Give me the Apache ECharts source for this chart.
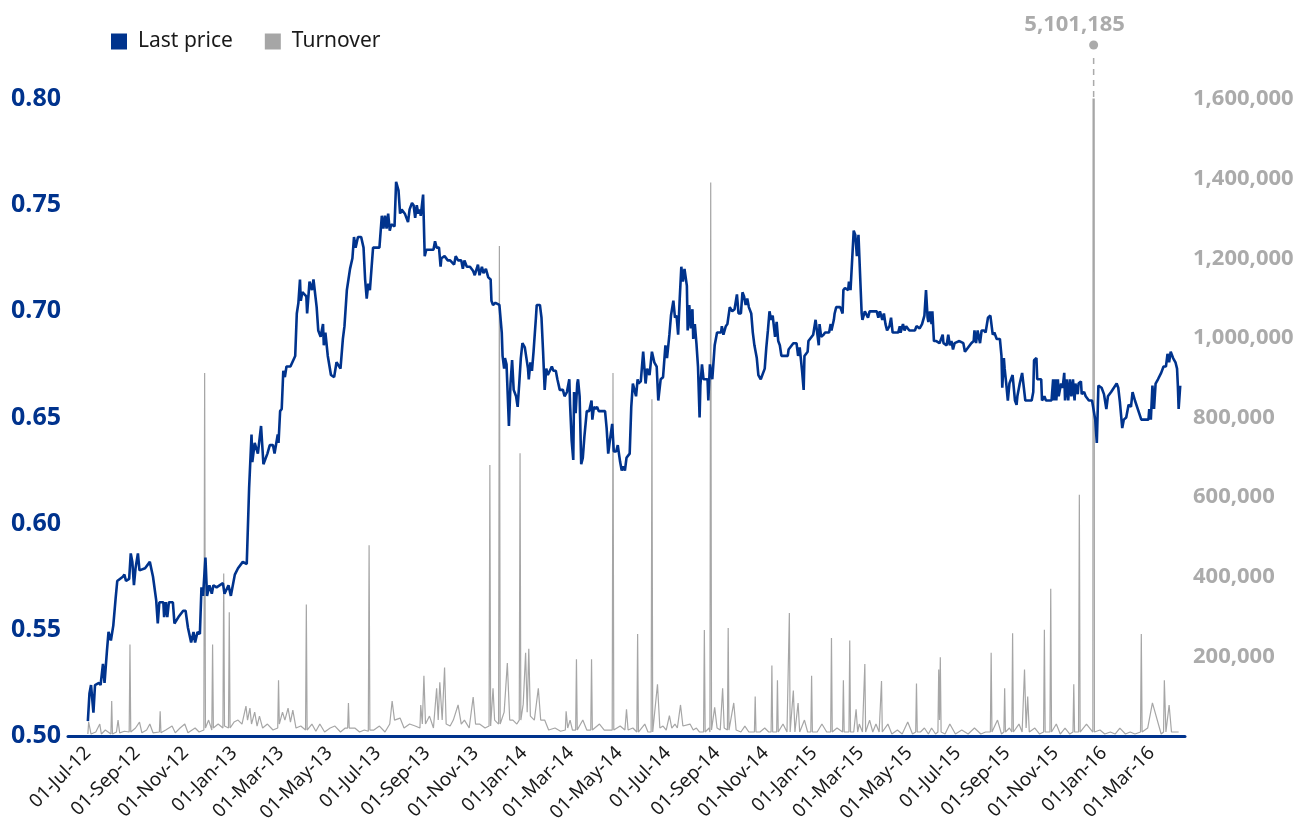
<!DOCTYPE html>
<html>
<head>
<meta charset="utf-8">
<script src="https://cdn.jsdelivr.net/npm/echarts@6/dist/echarts.min.js"></script>
<style>
  html, body { margin: 0; padding: 0; background: #fff; }
  #chart { width: 1299px; height: 828px; }
</style>
</head>
<body>
<div id="chart"></div>
<script>
// all days are counted from 01-Jul-2012
const startDate = '2012-07-01'

const tickDates = ['2012-07-01', '2012-09-01', '2012-11-01', '2013-01-01', '2013-03-01', '2013-05-01',
  '2013-07-01', '2013-09-01', '2013-11-01', '2014-01-01', '2014-03-01', '2014-05-01', '2014-07-01',
  '2014-09-01', '2014-11-01', '2015-01-01', '2015-03-01', '2015-05-01', '2015-07-01', '2015-09-01',
  '2015-11-01', '2016-01-01', '2016-03-01']

// last price
const priceDays = [0,2,4,7,9,14,16,19,21,24,26,29,32,35,37,44,46,48,52,54,56,58,60,63,65,72,78,82,86,88,90,95,96,98,100,102,107,109,114,120,123,126,130,133,135,138,141,143,145,148,150,153,156,158,162,170,172,177,180,185,189,195,200,203,206,207,210,214,218,221,226,229,233,235,239,240,242,244,246,248,250,255,261,263,265,267,268,270,275,276,279,282,284,288,290,293,296,297,299,302,306,310,313,318,321,323,326,328,330,333,335,337,340,344,347,349,351,353,355,357,359,367,370,372,374,376,378,380,382,386,388,391,393,395,399,403,405,408,410,412,414,416,418,419,422,424,426,435,437,439,442,444,445,449,453,456,461,463,466,470,472,474,477,481,485,487,491,493,496,498,501,504,507,508,510,513,518,521,522,524,525,527,530,532,534,536,539,541,543,545,547,550,554,555,557,559,561,564,565,569,571,573,575,577,579,584,586,589,591,594,598,600,603,606,607,609,611,612,614,616,617,619,621,623,625,628,631,634,635,637,639,641,643,651,653,655,657,660,662,665,667,670,672,674,676,678,682,684,686,688,690,692,693,696,699,702,704,707,710,713,716,718,721,724,727,729,732,734,737,739,741,743,745,747,749,751,754,755,757,759,761,762,764,766,768,770,771,773,775,780,781,783,786,789,792,797,798,800,803,805,808,811,814,817,819,822,824,826,828,830,832,835,837,839,842,844,847,852,854,856,858,860,862,865,867,869,871,873,881,882,888,892,894,896,898,899,901,902,906,907,913,916,918,920,921,923,926,928,933,935,936,939,940,942,947,950,951,953,957,958,960,962,964,966,968,970,971,974,975,978,980,982,984,993,995,997,999,1000,1002,1004,1006,1009,1011,1013,1020,1022,1023,1026,1028,1030,1034,1041,1043,1047,1050,1053,1055,1057,1058,1060,1062,1063,1065,1068,1072,1076,1077,1081,1083,1085,1087,1089,1091,1097,1102,1104,1108,1112,1115,1116,1118,1120,1123,1125,1128,1130,1133,1136,1139,1141,1144,1148,1150,1151,1153,1154,1156,1158,1160,1162,1164,1167,1169,1170,1172,1173,1176,1178,1180,1188,1190,1191,1194,1195,1200,1201,1204,1206,1213,1215,1216,1218,1219,1221,1222,1225,1227,1229,1230,1232,1234,1236,1238,1240,1242,1243,1246,1247,1250,1251,1254,1256,1258,1260,1264,1266,1268,1270,1272,1276,1279,1282,1284,1288,1295,1297,1299,1301,1302,1304,1307,1310,1313,1315,1318,1326,1335,1336,1338,1340,1342,1344,1347,1351,1354,1357,1359,1361,1363,1366,1369,1371,1372,1373,1375]
const prices = [0.507,0.520,0.524,0.511,0.524,0.525,0.524,0.534,0.525,0.540,0.549,0.545,0.552,0.565,0.573,0.575,0.576,0.573,0.574,0.586,0.582,0.571,0.579,0.586,0.578,0.579,0.582,0.575,0.564,0.553,0.563,0.563,0.556,0.563,0.556,0.563,0.563,0.553,0.556,0.559,0.559,0.551,0.544,0.549,0.544,0.549,0.548,0.570,0.566,0.584,0.566,0.571,0.567,0.571,0.570,0.572,0.567,0.571,0.566,0.576,0.579,0.582,0.581,0.617,0.642,0.629,0.638,0.633,0.646,0.628,0.633,0.637,0.637,0.633,0.642,0.638,0.653,0.654,0.672,0.669,0.674,0.674,0.679,0.699,0.704,0.715,0.705,0.709,0.707,0.699,0.714,0.710,0.715,0.702,0.691,0.688,0.694,0.684,0.690,0.679,0.670,0.669,0.676,0.673,0.687,0.693,0.710,0.715,0.720,0.725,0.735,0.730,0.735,0.735,0.730,0.715,0.706,0.713,0.710,0.720,0.730,0.730,0.745,0.739,0.745,0.739,0.746,0.738,0.741,0.740,0.761,0.757,0.746,0.748,0.746,0.742,0.748,0.751,0.750,0.744,0.750,0.746,0.748,0.745,0.755,0.726,0.729,0.729,0.733,0.730,0.730,0.721,0.725,0.726,0.724,0.724,0.722,0.726,0.724,0.724,0.720,0.724,0.721,0.721,0.719,0.717,0.722,0.717,0.721,0.718,0.720,0.716,0.715,0.705,0.703,0.704,0.703,0.690,0.679,0.673,0.678,0.675,0.646,0.666,0.677,0.663,0.660,0.655,0.666,0.678,0.685,0.683,0.673,0.668,0.676,0.672,0.681,0.697,0.703,0.703,0.697,0.681,0.663,0.673,0.670,0.674,0.672,0.672,0.668,0.663,0.663,0.660,0.662,0.668,0.656,0.639,0.630,0.662,0.652,0.666,0.668,0.660,0.628,0.631,0.641,0.653,0.653,0.658,0.649,0.655,0.654,0.655,0.653,0.653,0.645,0.633,0.639,0.647,0.634,0.634,0.637,0.629,0.625,0.627,0.625,0.631,0.633,0.655,0.666,0.663,0.660,0.668,0.666,0.667,0.681,0.666,0.673,0.670,0.681,0.676,0.674,0.658,0.668,0.669,0.684,0.678,0.689,0.698,0.705,0.697,0.698,0.689,0.706,0.721,0.714,0.720,0.712,0.691,0.703,0.692,0.701,0.687,0.694,0.685,0.674,0.650,0.665,0.675,0.668,0.668,0.658,0.675,0.668,0.684,0.690,0.690,0.693,0.689,0.693,0.694,0.702,0.700,0.701,0.708,0.699,0.699,0.709,0.707,0.703,0.706,0.702,0.699,0.690,0.684,0.678,0.670,0.668,0.673,0.683,0.691,0.700,0.696,0.698,0.688,0.695,0.686,0.684,0.679,0.679,0.682,0.685,0.685,0.679,0.683,0.683,0.672,0.663,0.679,0.681,0.686,0.689,0.696,0.690,0.684,0.694,0.688,0.689,0.690,0.690,0.694,0.691,0.696,0.699,0.702,0.702,0.699,0.710,0.711,0.710,0.714,0.710,0.710,0.738,0.736,0.726,0.736,0.736,0.699,0.696,0.700,0.700,0.697,0.700,0.700,0.697,0.700,0.700,0.696,0.699,0.694,0.691,0.693,0.697,0.690,0.690,0.693,0.690,0.694,0.691,0.693,0.691,0.691,0.693,0.692,0.694,0.698,0.710,0.697,0.695,0.700,0.694,0.700,0.686,0.686,0.685,0.689,0.685,0.684,0.689,0.684,0.686,0.682,0.685,0.686,0.685,0.681,0.683,0.685,0.686,0.691,0.685,0.691,0.685,0.691,0.691,0.690,0.697,0.698,0.689,0.690,0.687,0.687,0.679,0.664,0.678,0.673,0.666,0.658,0.666,0.666,0.670,0.658,0.656,0.660,0.660,0.666,0.671,0.671,0.658,0.658,0.662,0.677,0.678,0.668,0.668,0.658,0.660,0.658,0.658,0.668,0.658,0.668,0.658,0.668,0.660,0.666,0.664,0.671,0.658,0.668,0.658,0.668,0.660,0.668,0.658,0.666,0.661,0.666,0.667,0.661,0.662,0.660,0.660,0.658,0.658,0.6575,0.649,0.638,0.665,0.664,0.661,0.654,0.660,0.662,0.666,0.664,0.6575,0.6575,0.645,0.649,0.650,0.656,0.655,0.662,0.658,0.649,0.649,0.654,0.649,0.665,0.654,0.666,0.668,0.671,0.674,0.674,0.680,0.676,0.681,0.678,0.676,0.673,0.665,0.654,0.665]

// turnover
const turnoverDays = [0,1,4,10,15,17,22,29,30,31,36,38,40,46,52,53,54,60,65,68,74,78,82,90,91,92,98,106,110,116,122,126,135,140,146,147,148,152,156,157,158,164,170,171,172,177,178,179,184,189,194,199,201,204,206,210,213,216,220,226,233,239,240,241,245,248,252,255,258,262,268,274,275,276,282,287,292,298,305,311,318,324,327,328,329,336,342,348,353,354,355,360,367,374,380,383,386,393,398,405,412,418,419,421,423,425,430,435,439,441,443,446,449,451,456,460,466,470,474,480,485,488,493,500,505,506,507,510,512,517,518,519,524,528,531,535,540,543,544,545,548,551,553,555,557,562,567,570,575,580,588,595,601,602,604,607,610,614,615,616,623,628,633,634,635,644,650,656,660,661,662,670,676,678,680,686,691,692,693,701,705,709,710,711,717,720,724,728,732,735,739,742,746,749,758,762,766,770,775,776,777,782,783,784,785,789,792,796,799,801,805,806,807,813,816,822,827,832,839,840,841,846,852,857,860,861,862,867,868,869,875,880,882,883,884,888,890,894,896,902,906,910,911,912,918,924,930,935,936,937,943,950,951,952,958,959,960,964,967,969,971,975,977,978,979,984,988,992,996,998,999,1000,1007,1012,1019,1025,1032,1038,1042,1043,1044,1048,1053,1058,1062,1067,1070,1071,1072,1073,1074,1079,1085,1092,1100,1108,1116,1124,1130,1136,1137,1138,1145,1150,1153,1154,1155,1160,1163,1164,1165,1172,1176,1178,1179,1181,1183,1185,1192,1198,1203,1204,1205,1211,1212,1213,1219,1224,1230,1236,1240,1241,1242,1247,1248,1249,1257,1265,1266,1267,1274,1280,1287,1293,1299,1306,1312,1318,1325,1326,1327,1334,1340,1351,1354,1355,1357,1361,1364,1369,1373]
const turnovers = [5000,35000,5000,10000,30000,5000,15000,5000,88000,5000,10000,40000,8000,12000,10000,230000,10000,20000,35000,8000,15000,30000,8000,10000,62000,8000,15000,25000,8000,20000,30000,8000,20000,10000,15000,912000,20000,40000,15000,230000,20000,30000,20000,408000,25000,20000,311000,20000,35000,40000,30000,75000,40000,70000,30000,60000,25000,50000,20000,30000,15000,20000,140000,30000,60000,40000,70000,35000,65000,20000,25000,15000,330000,15000,30000,12000,30000,10000,20000,25000,10000,20000,20000,83000,20000,20000,10000,15000,12000,479000,15000,15000,25000,10000,30000,88000,40000,45000,20000,30000,25000,20000,78000,30000,151000,30000,50000,20000,120000,40000,135000,40000,172000,30000,25000,40000,78000,30000,40000,20000,98000,30000,30000,20000,25000,681000,25000,120000,40000,30000,1231000,30000,60000,183000,40000,40000,30000,40000,710000,40000,80000,209000,60000,219000,50000,40000,120000,40000,40000,15000,20000,12000,15000,62000,20000,40000,15000,15000,193000,15000,40000,15000,15000,193000,15000,30000,15000,15000,15000,912000,15000,25000,15000,67000,15000,20000,10000,256000,10000,30000,10000,10000,846000,10000,130000,20000,25000,15000,51000,20000,30000,20000,78000,25000,30000,15000,20000,10000,10000,266000,10000,20000,10000,1390000,15000,72000,20000,15000,120000,20000,15000,271000,15000,83000,15000,10000,25000,10000,10000,99000,10000,10000,20000,10000,10000,177000,10000,10000,140000,10000,30000,10000,10000,309000,10000,114000,10000,83000,10000,40000,10000,10000,151000,10000,10000,30000,10000,10000,246000,10000,20000,10000,140000,10000,10000,240000,10000,10000,67000,10000,30000,10000,10000,181000,10000,40000,10000,30000,10000,10000,138000,10000,30000,5000,15000,5000,35000,5000,10000,132000,10000,10000,20000,5000,20000,5000,10000,167000,40000,198000,10000,5000,30000,5000,15000,5000,20000,5000,10000,10000,209000,10000,40000,5000,10000,120000,10000,20000,10000,258000,10000,30000,10000,10000,167000,20000,99000,10000,20000,5000,10000,267000,10000,10000,370000,10000,30000,5000,20000,5000,10000,130000,10000,10000,606000,10000,30000,10000,5101185,10000,15000,5000,10000,5000,20000,5000,10000,5000,10000,256000,10000,20000,83000,5000,10000,140000,10000,78000,10000,10000,10000]

const turnoverMax = 1600000
const peakDay = 1266

const DAY = 86400000
const base = Date.parse(startDate)
const months = ['Jan','Feb','Mar','Apr','May','Jun','Jul','Aug','Sep','Oct','Nov','Dec']
function fmtDay(v) {
    const d = new Date(base + Math.round(v) * DAY)
    return String(d.getUTCDate()).padStart(2, '0') + '-' + months[d.getUTCMonth()] + '-' + String(d.getUTCFullYear()).slice(2)
}
function commas(n) {
    return String(Math.round(n)).replace(/\B(?=(\d{3})+(?!\d))/g, ',')
}

const tickDays = tickDates.map(s => Math.round((Date.parse(s) - base) / DAY))
const priceData = priceDays.map((d, i) => [d, prices[i]])
const turnoverData = turnoverDays.map((d, i) => [d, turnovers[i]])
const peakValue = turnovers[turnoverDays.indexOf(peakDay)]

const blue = '#00338d'
const grey = '#a6a6a6'
const font = 'Noto Sans'

const chart = echarts.init(document.getElementById('chart'))
chart.setOption({
    animation: false,
    textStyle: { fontFamily: font },
    legend: {
        data: ['Last price', 'Turnover'],
        left: 111,
        top: 31,
        padding: 0,
        icon: 'rect',
        itemWidth: 16,
        itemHeight: 16,
        itemGap: 32,
        textStyle: { fontSize: 21, color: '#1a1a1a', fontFamily: font, padding: [0, 0, 0, 6] }
    },
    grid: { left: 68, right: 114, top: 99, bottom: 92 },
    xAxis: {
        type: 'value',
        min: -25,
        max: 1381,
        axisLine: { show: true, lineStyle: { color: blue, width: 3 } },
        axisTick: { show: false },
        splitLine: { show: false },
        axisLabel: {
            customValues: tickDays,
            rotate: 45,
            margin: 14,
            fontSize: 19,
            color: '#1a1a1a',
            fontFamily: font,
            formatter: v => fmtDay(v)
        }
    },
    yAxis: [
        {
            type: 'value',
            position: 'left',
            min: 0.5,
            max: 0.8,
            interval: 0.05,
            splitLine: { show: false },
            axisLine: { show: false },
            axisTick: { show: false },
            axisLabel: {
                color: blue,
                fontWeight: 'bold',
                fontSize: 25,
                margin: 7,
                fontFamily: font,
                formatter: v => v.toFixed(2)
            }
        },
        {
            type: 'value',
            position: 'right',
            min: 0,
            max: turnoverMax,
            interval: 200000,
            splitLine: { show: false },
            axisLine: { show: false },
            axisTick: { show: false },
            axisLabel: {
                color: '#ababab',
                fontWeight: 'bold',
                fontSize: 22,
                margin: 8,
                fontFamily: font,
                formatter: v => v === 0 ? '' : commas(v)
            }
        }
    ],
    series: [
        {
            name: 'Turnover',
            type: 'line',
            yAxisIndex: 1,
            data: turnoverData,
            showSymbol: false,
            color: grey,
            lineStyle: { color: grey, width: 1.2 },
            z: 1
        },
        {
            name: 'Last price',
            type: 'line',
            yAxisIndex: 0,
            data: priceData,
            showSymbol: false,
            color: blue,
            lineStyle: { color: blue, width: 2.6 },
            z: 3
        },
        {
            // value label for the clipped turnover spike
            name: 'peak',
            type: 'custom',
            yAxisIndex: 1,
            clip: false,
            silent: true,
            z: 4,
            data: [[peakDay, peakValue]],
            renderItem: (params, api) => {
                const p = api.coord([api.value(0), turnoverMax])
                return {
                    type: 'group',
                    children: [
                        { type: 'line', shape: { x1: p[0], y1: p[1] - 2, x2: p[0], y2: p[1] - 46 },
                          style: { stroke: '#aaaaaa', lineWidth: 1.5, lineDash: [6, 5] } },
                        { type: 'circle', shape: { cx: p[0], cy: p[1] - 54, r: 4.5 },
                          style: { fill: '#aaaaaa' } },
                        { type: 'text', x: p[0] - 19, y: p[1] - 74,
                          style: { text: commas(api.value(1)), fill: '#ababab', font: 'bold 22px "Noto Sans"',
                                   align: 'center', verticalAlign: 'middle' } }
                    ]
                }
            }
        }
    ]
})
</script>
</body>
</html>
